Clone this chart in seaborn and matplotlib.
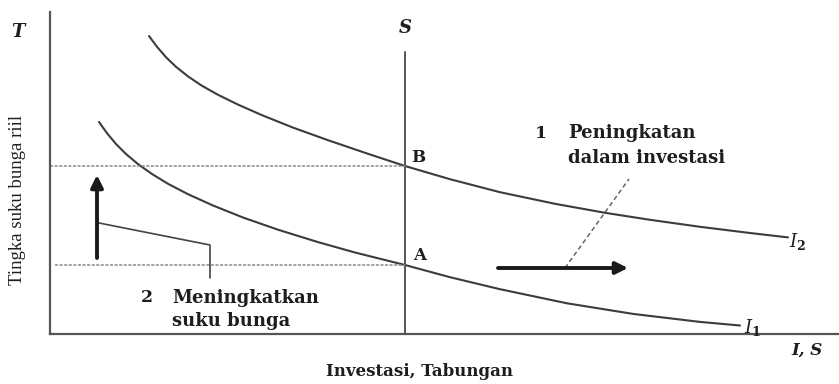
import matplotlib
matplotlib.use("Agg")
import matplotlib.pyplot as plt
import seaborn as sns
import pandas as pd

# Investment demand curves (investment vs. real interest rate)
i1_invest = [49, 57, 66, 76, 88, 102, 118, 138, 163, 193, 228, 268, 305, 355,
             400, 450, 517, 583, 650, 690]
i1_rate = [212, 200.8, 190, 180, 169.9, 160, 150.2, 139.8, 128.5, 116.5, 104.3,
           91.9, 81.5, 69, 56.8, 44.8, 30.7, 20.1, 12.1, 8.5]
i2_invest = [99, 107, 116, 126, 138, 152, 168, 188, 213, 243, 278, 318, 355,
             400, 450, 505, 555, 600, 650, 700, 738]
i2_rate = [298, 287.2, 276.8, 267.2, 257.6, 248.2, 239.2, 229.4, 218.4, 206.4,
           193.8, 180.2, 168, 154.8, 141.8, 130.2, 121.2, 114.2, 107.2, 101, 96.6]

# Fixed saving and the two equilibrium rates
saving = 355
saving_top = 282
rate_a = 69
rate_b = 168

sns.set_theme(style="white")
plt.rcParams["font.family"] = ["DejaVu Serif"]
plt.rcParams["mathtext.fontset"] = "dejavuserif"

fig = plt.figure(figsize=(8.39, 3.84), dpi=100)
ax = fig.add_axes([50 / 839, 50 / 384, 789 / 839, 322 / 384])
ax.set_xlim(0, 789)
ax.set_ylim(0, 322)

curves = pd.DataFrame({
    "invest": i1_invest + i2_invest,
    "rate": i1_rate + i2_rate,
    "curve": ["I1"] * len(i1_invest) + ["I2"] * len(i2_invest),
})
sns.lineplot(data=curves, x="invest", y="rate", hue="curve", estimator=None,
             sort=False, palette={"I1": "#3c3c3c", "I2": "#3c3c3c"},
             linewidth=1.5, legend=False, ax=ax)

# Vertical saving line
ax.plot([saving, saving], [0, saving_top], color="#555555", lw=1.4)

# Dotted guides to the equilibrium interest rates
dot = dict(color="#8a8a8a", lw=1.1, linestyle=(0, (2, 1)))
ax.plot([0, saving], [rate_b, rate_b], **dot)
ax.plot([5, saving], [rate_a, rate_a], **dot)

# Spines
for side in ("top", "right"):
    ax.spines[side].set_visible(False)
for side in ("left", "bottom"):
    ax.spines[side].set_color("#555555")
    ax.spines[side].set_linewidth(1.6)
ax.set_xticks([])
ax.set_yticks([])
ax.set_xlabel("")
ax.set_ylabel("")

# Arrows
ax.annotate("", xy=(47, 159), xytext=(47, 76),
            arrowprops=dict(arrowstyle="-|>", lw=2.8, color="#1a1a1a",
                            mutation_scale=18, shrinkA=0, shrinkB=0))
ax.annotate("", xy=(578, 66), xytext=(448, 66),
            arrowprops=dict(arrowstyle="-|>", lw=2.8, color="#1a1a1a",
                            mutation_scale=18, shrinkA=0, shrinkB=0))

# Leader lines to the annotations
ax.plot([49, 160, 160], [111, 89, 56], color="#444444", lw=1.2)
ax.plot([515, 579], [66, 155], color="#666666", lw=1.1, linestyle=(0, (3, 2)))

bold = dict(fontweight="bold", color="#1e1e1e")
ax.text(355, 306, "S", fontsize=13, fontstyle="italic", ha="center", va="center", **bold)
ax.text(-32, 302, "T", fontsize=13, fontstyle="italic", ha="center", va="center",
        clip_on=False, **bold)
ax.text(368, 177, "B", fontsize=12, ha="center", va="center", **bold)
ax.text(370, 79, "A", fontsize=12, ha="center", va="center", **bold)

ax.text(491, 201, "1", fontsize=12.5, ha="center", va="center", **bold)
ax.text(518, 201, "Peningkatan", fontsize=13, ha="left", va="center", **bold)
ax.text(518, 176, "dalam investasi", fontsize=13, ha="left", va="center", **bold)

ax.text(97, 36, "2", fontsize=12.5, ha="center", va="center", **bold)
ax.text(122, 36, "Meningkatkan", fontsize=13, ha="left", va="center", **bold)
ax.text(122, 13, "suku bunga", fontsize=13, ha="left", va="center", **bold)

ax.text(748, 93, r"$\mathbf{\mathit{I}_2}$", fontsize=13, ha="center", va="center",
        color="#1e1e1e")
ax.text(703, 6, r"$\mathbf{\mathit{I}_1}$", fontsize=13, ha="center", va="center",
        color="#1e1e1e")
ax.text(757, -16, "I, S", fontsize=12, fontstyle="italic", ha="center", va="center",
        clip_on=False, **bold)

ax.text(370, -38, "Investasi, Tabungan", fontsize=12, ha="center", va="center",
        clip_on=False, **bold)
ax.text(-32, 134, "Tingka suku bunga riil", fontsize=13.5, rotation=90, ha="center",
        va="center", clip_on=False, family="Liberation Serif", color="#1e1e1e")

fig.savefig("out.png", dpi=100)
